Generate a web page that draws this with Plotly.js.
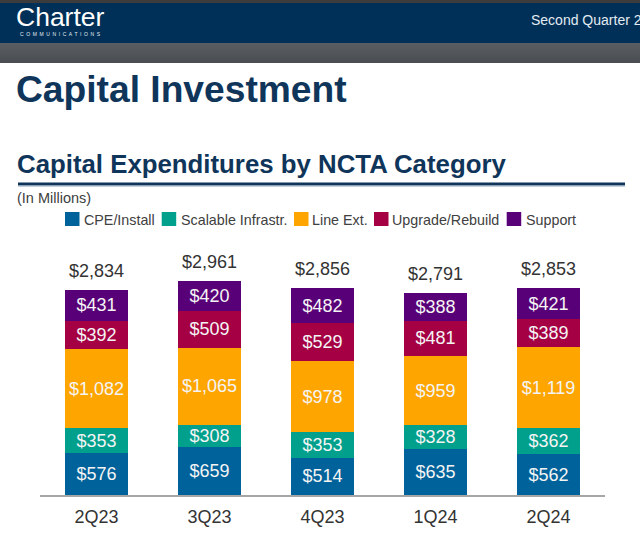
<!DOCTYPE html>
<html>
<head>
<meta charset="utf-8">
<script src="https://cdn.plot.ly/plotly-3.0.1.min.js"></script>
<style>
  html, body { margin: 0; padding: 0; width: 640px; height: 537px; overflow: hidden; background: #ffffff; font-family: "Liberation Sans", Arial, sans-serif; }
  #topstrip { position: absolute; left: 0; top: 0; width: 640px; height: 3px; background: #3c3c3c; }
  #navband { position: absolute; left: 0; top: 3px; width: 640px; height: 40px; background: #003057; }
  #grayband { position: absolute; left: 0; top: 43px; width: 640px; height: 20px; background: linear-gradient(#5a5d61, #4a4d51); }
  #logo { position: absolute; left: 16px; top: 2px; color: #ffffff; font-size: 26.5px; }
  #logosub { position: absolute; left: 20px; top: 31px; color: #e8eef4; font-size: 5px; letter-spacing: 2.6px; }
  #quarter { position: absolute; left: 531px; top: 12px; color: #e4ebf2; font-size: 14px; white-space: nowrap; }
  #chart { position: absolute; left: 0; top: 0; width: 640px; height: 537px; }
</style>
</head>
<body>
<div id="topstrip"></div>
<div id="navband"></div>
<div id="grayband"></div>
<div id="logo">Charter</div>
<div id="logosub">COMMUNICATIONS</div>
<div id="quarter">Second Quarter 2024</div>
<div id="chart"></div>
<script>
const quarters = ['2Q23', '3Q23', '4Q23', '1Q24', '2Q24'];
const cpeInstall = [576, 659, 514, 635, 562];
const scalableInfra = [353, 308, 353, 328, 362];
const lineExt = [1082, 1065, 978, 959, 1119];
const upgradeRebuild = [392, 509, 529, 481, 389];
const support = [431, 420, 482, 388, 421];
const totals = [2834, 2961, 2856, 2791, 2853];
const seriesNames = ['CPE/Install', 'Scalable Infrastr.', 'Line Ext.', 'Upgrade/Rebuild', 'Support'];
const seriesColors = ['#00629b', '#00a08c', '#ffa500', '#a50044', '#580078'];

const W = 640, H = 537;
const mL = 40, mR = 35, mT = 250, mB = 42;
const plotW = W - mL - mR, plotH = H - mT - mB;
const px = x => (x - mL) / plotW;
const py = y => (H - mB - y) / plotH;

const FONT = '"Liberation Sans", Arial, sans-serif';
const NAVY = '#0f355a';
const seriesValues = [cpeInstall, scalableInfra, lineExt, upgradeRebuild, support];

const traces = seriesValues.map((vals, i) => ({
  type: 'bar',
  name: seriesNames[i],
  x: quarters,
  y: vals,
  marker: { color: seriesColors[i], line: { width: 0 } },
  texttemplate: '$%{y:,}',
  textposition: 'inside',
  insidetextanchor: 'middle',
  constraintext: 'none',
  textfont: { family: FONT, size: 18, color: '#f4f4f4' },
  hoverinfo: 'skip',
  showlegend: false
}));

const fmt = v => '$' + v.toLocaleString('en-US');

const annotations = totals.map((t, i) => ({
  x: quarters[i], y: t, xref: 'x', yref: 'y',
  text: fmt(t), showarrow: false, yanchor: 'bottom', yshift: 7,
  font: { family: FONT, size: 18, color: '#333333' }
}));

annotations.push({
  xref: 'paper', yref: 'paper', x: px(15), y: py(164), xanchor: 'left', yanchor: 'middle',
  text: '<b>Capital Expenditures by NCTA Category</b>', showarrow: false,
  font: { family: FONT, size: 25.8, color: NAVY }
});
annotations.push({
  xref: 'paper', yref: 'paper', x: px(15), y: py(198), xanchor: 'left', yanchor: 'middle',
  text: '(In Millions)', showarrow: false,
  font: { family: FONT, size: 14.5, color: '#404040' }
});

// Custom single-row legend (layout positions of the legend items, in pixels)
const legendSwatchX = [65, 161.7, 294, 374, 506.7];
const legendTextX = [85, 181.7, 313.3, 393.3, 526.7];
const shapes = [
  { type: 'line', xref: 'paper', yref: 'paper', x0: px(18), x1: px(625), y0: py(184), y1: py(184),
    line: { color: NAVY, width: 3 } },
  { type: 'line', xref: 'paper', yref: 'paper', x0: px(18), x1: px(625), y0: py(186.2), y1: py(186.2),
    line: { color: '#a9bccd', width: 1 } }
];
seriesNames.forEach((name, i) => {
  shapes.push({
    type: 'rect', xref: 'paper', yref: 'paper',
    x0: px(legendSwatchX[i]), x1: px(legendSwatchX[i] + 14.5),
    y0: py(226), y1: py(212),
    fillcolor: seriesColors[i], line: { width: 0 }
  });
  annotations.push({
    xref: 'paper', yref: 'paper', x: px(legendTextX[i] - 3), y: py(220), xanchor: 'left', yanchor: 'middle',
    text: name, showarrow: false,
    font: { family: FONT, size: 14.3, color: '#404040' }
  });
});

const layout = {
  width: W, height: H,
  margin: { l: mL, r: mR, t: mT, b: mB },
  paper_bgcolor: 'rgba(0,0,0,0)',
  plot_bgcolor: 'rgba(0,0,0,0)',
  barmode: 'stack',
  bargap: 0.434,
  hovermode: false,
  showlegend: false,
  title: {
    text: '<b>Capital Investment</b>',
    xref: 'container', yref: 'container',
    x: 16 / W, xanchor: 'left',
    y: 1 - 89 / H, yanchor: 'middle',
    font: { family: FONT, size: 37.2, color: NAVY }
  },
  xaxis: {
    type: 'category',
    showline: true, linecolor: '#a6a6a6', linewidth: 1.5,
    showgrid: false, zeroline: false, ticks: '',
    ticklabelstandoff: 5,
    tickfont: { family: FONT, size: 18, color: '#333333' },
    fixedrange: true
  },
  yaxis: {
    range: [0, plotH / 0.0724],
    visible: false, showgrid: false, zeroline: false, fixedrange: true
  },
  shapes: shapes,
  annotations: annotations
};

Plotly.newPlot('chart', traces, layout, { displayModeBar: false, staticPlot: true });
</script>
</body>
</html>
